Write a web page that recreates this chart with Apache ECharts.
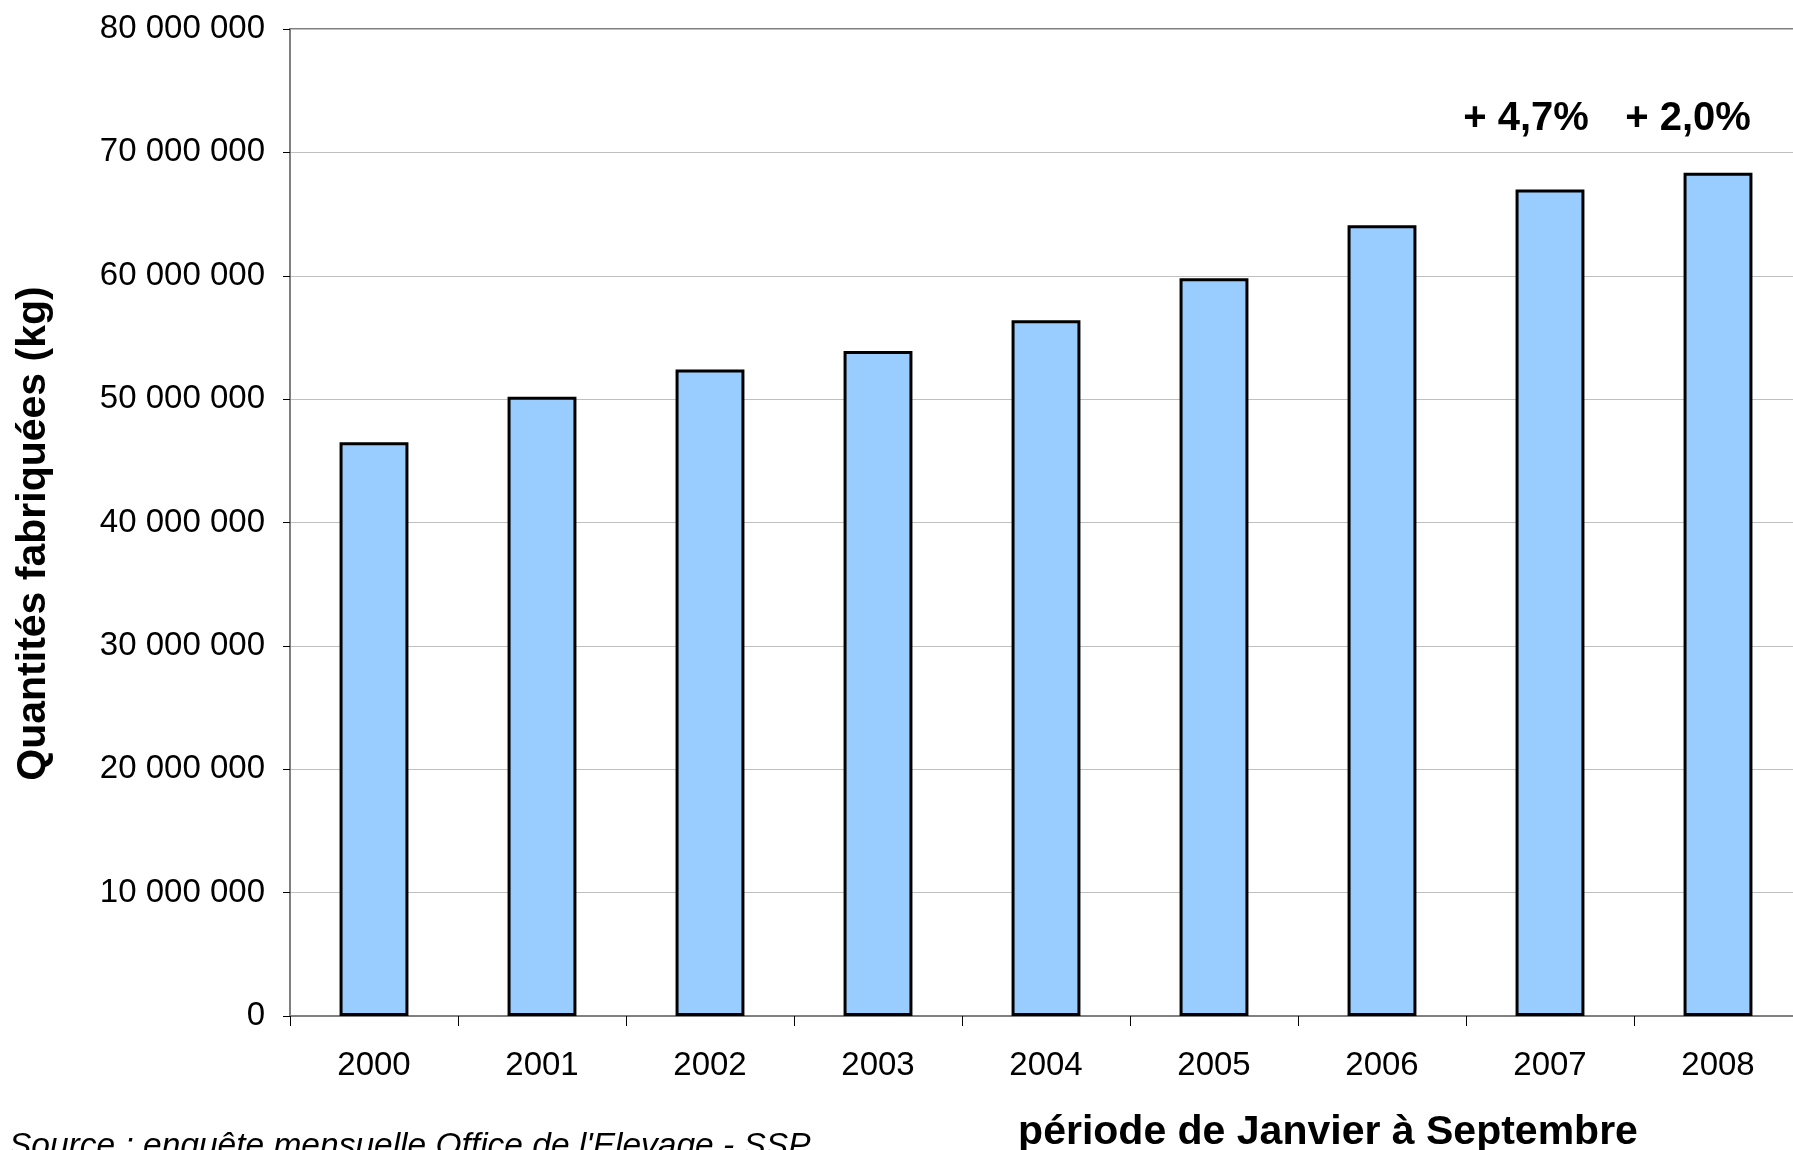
<!DOCTYPE html>
<html>
<head>
<meta charset="utf-8">
<script src="https://cdn.jsdelivr.net/npm/echarts@6/dist/echarts.min.js"></script>
<style>
html,body{margin:0;padding:0;background:#fff;}
#chart{width:1793px;height:1150px;}
</style>
</head>
<body>
<div id="chart"></div>
<script>
// Data
const years = ['2000','2001','2002','2003','2004','2005','2006','2007','2008'];
const quantities = [46500000, 50200000, 52400000, 53900000, 56400000, 59800000, 64100000, 67000000, 68350000];
const yTicks = [0, 10000000, 20000000, 30000000, 40000000, 50000000, 60000000, 70000000, 80000000];
const annotYears = ['2007', '2008'];
const annotTexts = ['+ 4,7%', '+ 2,0%'];
const annotLevel = 72700000;
const yAxisTitle = 'Quantités fabriquées (kg)';
const xAxisTitle = 'période de Janvier à Septembre';
const sourceText = "Source : enquête mensuelle Office de l'Elevage - SSP";

const FONT = '"Liberation Sans", Arial, sans-serif';
const annotShift = [-24, -30];

function fmt(v) {
  return String(v).replace(/\B(?=(\d{3})+(?!\d))/g, ' ');
}

const chart = echarts.init(document.getElementById('chart'), null, {renderer: 'canvas'});
chart.setOption({
  animation: false,
  backgroundColor: '#ffffff',
  grid: {
    left: 290, width: 1512, top: 29, height: 987,
    outerBoundsMode: 'none', containLabel: false,
    show: true, borderColor: '#808080', borderWidth: 2, backgroundColor: 'transparent'
  },
  xAxis: {
    type: 'category',
    data: years,
    axisLine: {show: true, lineStyle: {color: '#808080', width: 2}},
    axisTick: {show: true, length: 10, lineStyle: {color: '#000', width: 1}},
    axisLabel: {color: '#000', fontFamily: FONT, fontSize: 33, margin: 33},
    splitLine: {show: false}
  },
  yAxis: {
    type: 'value',
    min: yTicks[0],
    max: yTicks[yTicks.length - 1],
    interval: yTicks[1] - yTicks[0],
    name: yAxisTitle,
    nameLocation: 'middle',
    nameRotate: 90,
    nameGap: 236,
    nameTextStyle: {color: '#000', fontFamily: FONT, fontSize: 41, fontWeight: 'bold', padding: [0, 22, 0, 0]},
    axisLine: {show: true, lineStyle: {color: '#808080', width: 2}},
    axisTick: {show: true, length: 7, lineStyle: {color: '#000', width: 1}},
    axisLabel: {color: '#000', fontFamily: FONT, fontSize: 33, margin: 25, formatter: fmt},
    splitLine: {show: true, lineStyle: {color: '#c0c0c0', width: 1}}
  },
  series: [{
    type: 'bar',
    data: quantities,
    barWidth: '41%',
    itemStyle: {color: '#99CCFF', borderColor: '#000', borderWidth: 3},
    markPoint: {
      symbol: 'circle',
      symbolSize: 0,
      label: {
        show: true, position: 'inside',
        color: '#000', fontFamily: FONT, fontSize: 40, fontWeight: 'bold',
        formatter: p => p.name
      },
      data: annotYears.map((y, i) => ({
        name: annotTexts[i], coord: [y, annotLevel], value: annotTexts[i],
        label: {offset: [annotShift[i], 0]}
      }))
    }
  }],
  graphic: [
    {
      type: 'text', x: 1328, y: 1133,
      style: {text: xAxisTitle, fill: '#000', font: 'bold 41px ' + FONT, textAlign: 'center', textVerticalAlign: 'middle'}
    },
    {
      type: 'text', x: 9, y: 1147,
      style: {text: sourceText, fill: '#000', font: 'italic 33.5px ' + FONT, textAlign: 'left', textVerticalAlign: 'middle'}
    }
  ]
});
</script>
</body>
</html>
